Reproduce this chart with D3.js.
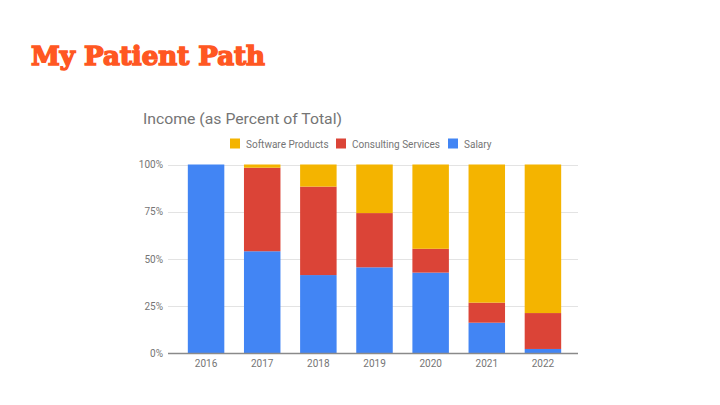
<!DOCTYPE html>
<html><head><meta charset="utf-8">
<script src="https://cdn.jsdelivr.net/npm/d3@7"></script>
<style>html,body{margin:0;padding:0;background:#fff;}svg{display:block;}</style>
</head><body>
<svg id="c" width="720" height="405"></svg>
<script>
const years = ["2016","2017","2018","2019","2020","2021","2022"];
const salary = [100, 54.1, 41.5, 45.6, 42.8, 16.3, 2.4];
const consulting = [0, 44.2, 46.8, 28.7, 12.6, 10.6, 19.0];
const software = [0, 1.7, 11.7, 25.7, 44.6, 73.1, 78.6];
const seriesNames = ["Software Products", "Consulting Services", "Salary"];
const seriesColors = ["#F4B400", "#DB4437", "#4285F4"];
const yTicks = [0, 25, 50, 75, 100];

const svg = d3.select("#c");

svg.append("text").attr("x", 31).attr("y", 65)
  .attr("font-family", "DejaVu Serif").attr("font-weight", "bold")
  .attr("font-size", 26).attr("fill", "#FF5722")
  .attr("stroke", "#FF5722").attr("stroke-width", 1.5)
  .attr("textLength", 234).attr("lengthAdjust", "spacingAndGlyphs")
  .text("My Patient Path");

svg.append("text").attr("x", 143).attr("y", 124)
  .attr("font-family", "Roboto").attr("font-size", 15.5).attr("fill", "#757575")
  .attr("textLength", 199).attr("lengthAdjust", "spacingAndGlyphs")
  .text("Income (as Percent of Total)");

const rows = years.map((y, i) => ({year: y, "Salary": salary[i], "Consulting Services": consulting[i], "Software Products": software[i]}));
const stack = d3.stack().keys(["Salary", "Consulting Services", "Software Products"]);
const stacked = stack(rows);

const x = d3.scaleBand().domain(years).range([178, 571]).paddingInner(0.35).paddingOuter(0.175);
const y = d3.scaleLinear().domain([0, 100]).range([353.5, 164.5]);
const color = d3.scaleOrdinal().domain(seriesNames).range(seriesColors);

// gridlines
svg.append("g").selectAll("line").data(yTicks.filter(d => d > 0)).join("line")
  .attr("x1", 168).attr("x2", 578)
  .attr("y1", d => Math.round(y(d)) + 0.5).attr("y2", d => Math.round(y(d)) + 0.5)
  .attr("stroke", "#e3e3e3").attr("stroke-width", 1);

// y labels
const yAxis = d3.axisLeft(y).tickValues(yTicks).tickFormat(d => d + "%").tickSize(0).tickPadding(0);
const gy = svg.append("g").attr("transform", "translate(163,0)").call(yAxis);
gy.select(".domain").remove();
gy.selectAll("text").attr("font-family", "Roboto").attr("font-size", 10).attr("fill", "#757575");

// bars
svg.append("g").selectAll("g").data(stacked).join("g")
  .attr("fill", d => color(d.key))
  .selectAll("rect").data(d => d).join("rect")
  .attr("x", d => x(d.data.year)).attr("width", x.bandwidth())
  .attr("y", d => y(d[1])).attr("height", d => Math.max(0, y(d[0]) - y(d[1])));

// baseline
svg.append("line").attr("x1", 168).attr("x2", 578)
  .attr("y1", y(0)).attr("y2", y(0)).attr("stroke", "#8a8a8a").attr("stroke-width", 1.5);

// x labels
const xAxis = d3.axisBottom(x).tickSize(0).tickPadding(0);
const gx = svg.append("g").attr("transform", "translate(0,360)").call(xAxis);
gx.select(".domain").remove();
gx.selectAll("text").attr("font-family", "Roboto").attr("font-size", 10).attr("fill", "#757575");

// legend
const legendX = [230, 336, 448];
const lg = svg.append("g").selectAll("g").data(seriesNames).join("g")
  .attr("transform", (d, i) => `translate(${legendX[i]},138)`);
lg.append("rect").attr("width", 10).attr("height", 10).attr("y", 0.5).attr("fill", d => color(d));
lg.append("text").attr("x", 16).attr("y", 9.5)
  .attr("font-family", "Roboto").attr("font-size", 10).attr("fill", "#757575")
  .text(d => d);
</script>
</body></html>
